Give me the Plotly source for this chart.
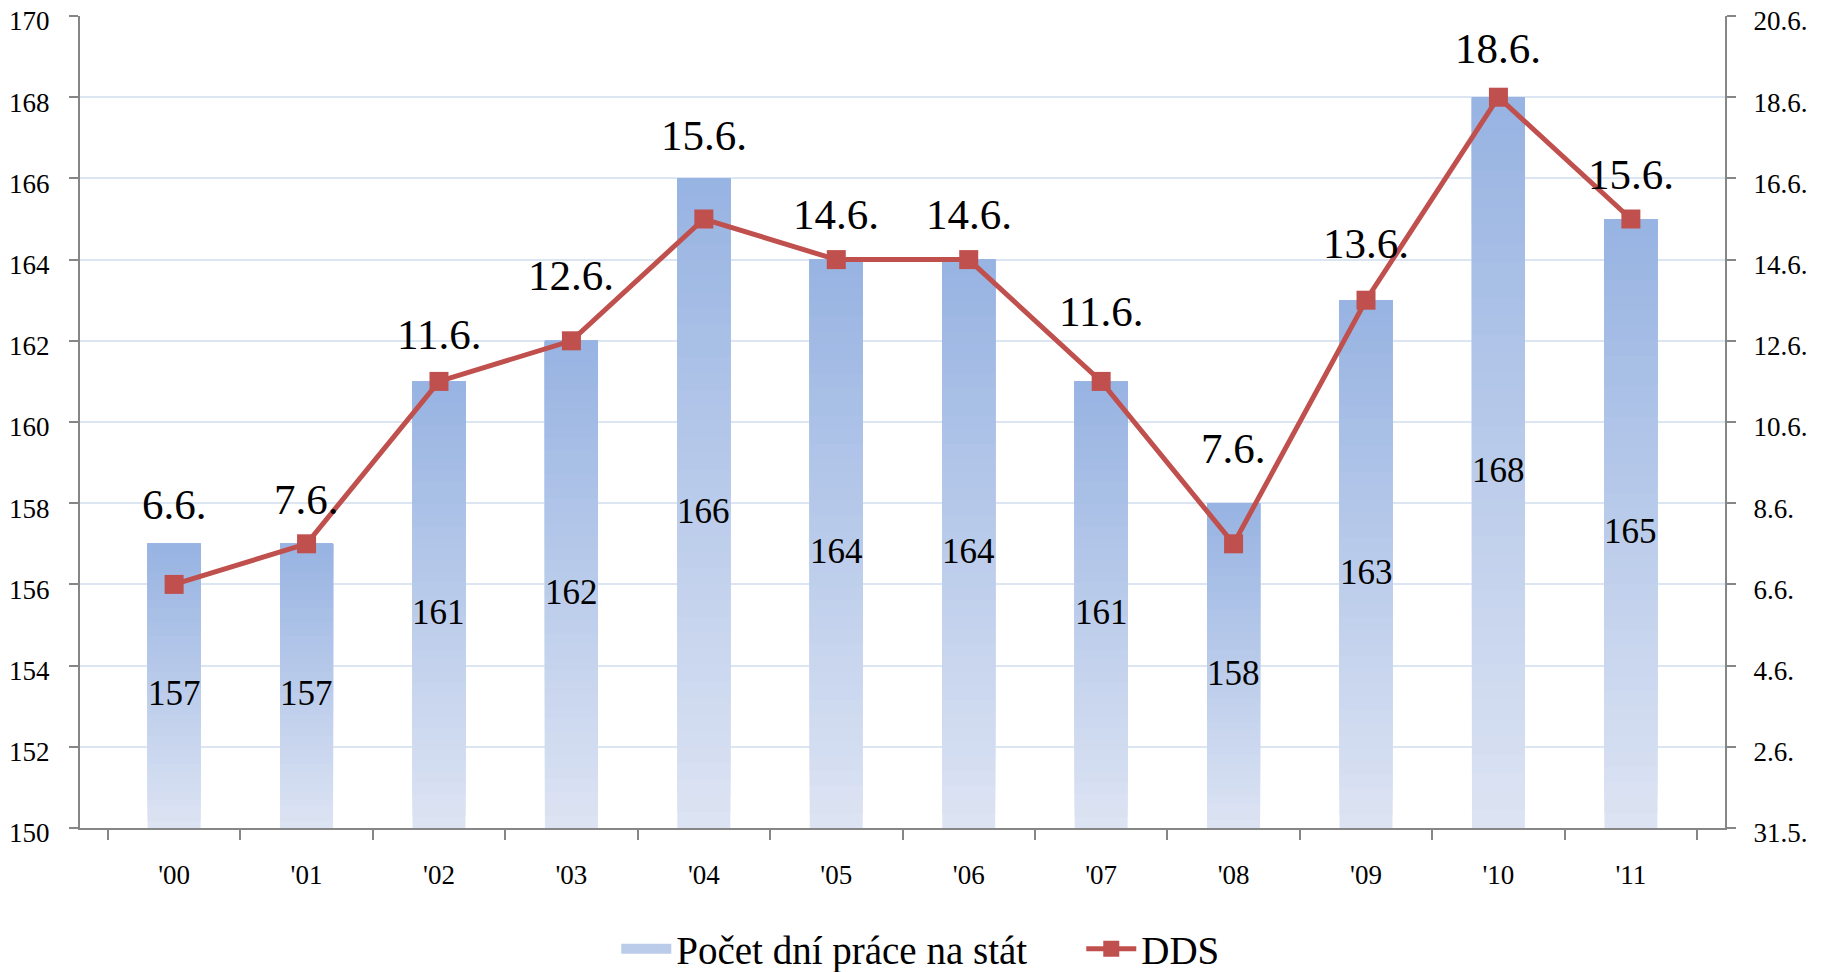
import datetime as dt
import plotly.graph_objects as go

# ---- data ----
years = ["'00", "'01", "'02", "'03", "'04", "'05", "'06", "'07", "'08", "'09", "'10", "'11"]
work_days = [157, 157, 161, 162, 166, 164, 164, 161, 158, 163, 168, 165]
dds_labels = ["6.6.", "7.6.", "11.6.", "12.6.", "15.6.", "14.6.", "14.6.", "11.6.", "7.6.", "13.6.", "18.6.", "15.6."]
y2_ticktext = ["31.5.", "2.6.", "4.6.", "6.6.", "8.6.", "10.6.", "12.6.", "14.6.", "16.6.", "18.6.", "20.6."]
bar_name = "Počet dní práce na stát"
line_name = "DDS"

# label vertical offsets (px) above the DDS markers
label_shift = [80, 44, 47, 65, 84, 45, 45, 70, 95, 57, 49, 45]

# ---- derived ----
ref = dt.date(2011, 5, 31)
def to_offset(s):
    d, m = [int(p) for p in s.strip(".").split(".")]
    return (dt.date(2011, m, d) - ref).days
dds_num = [to_offset(s) for s in dds_labels]
y2_tickvals = [to_offset(s) for s in y2_ticktext]

BASE = 150
FONT = "Liberation Serif"
top_rgb = (151, 179, 226)
bot_rgb = (221, 228, 243)
N = 40

fig = go.Figure()
# gradient bars: overlapping layers, each from its start up to the bar top
for k in range(N):
    t = (k + 0.5) / N
    c = tuple(round(bot_rgb[i] + (top_rgb[i] - bot_rgb[i]) * t) for i in range(3))
    col = "rgb(%d,%d,%d)" % c
    starts = [BASE + (v - BASE) * k / N for v in work_days]
    fig.add_trace(go.Bar(
        x=years,
        y=[v - s for v, s in zip(work_days, starts)],
        base=starts,
        width=0.4,
        marker=dict(color=col, line=dict(width=0)),
        showlegend=False,
        hoverinfo="skip",
    ))

# legend swatch for the bar series
mid = tuple(round((bot_rgb[i] + top_rgb[i]) / 2) for i in range(3))
fig.add_trace(go.Scatter(
    x=[None], y=[None], mode="lines", name=bar_name,
    line=dict(color="rgb(%d,%d,%d)" % mid, width=17),
    legendrank=1,
))

fig.add_trace(go.Scatter(
    x=years,
    y=dds_num,
    yaxis="y2",
    mode="lines+markers",
    name=line_name,
    line=dict(color="#C0504D", width=5),
    marker=dict(symbol="square", size=19, color="#C0504D"),
    legendrank=2,
))

# bar value labels, centred in the bars
for x, v in zip(years, work_days):
    fig.add_annotation(
        x=x, y=(BASE + v) / 2, xref="x", yref="y", text=str(v), showarrow=False,
        yshift=-8, yanchor="middle", xanchor="center",
        font=dict(family=FONT, size=35, color="black"),
    )

# DDS date labels above the markers
for x, yv, lab, sh in zip(years, dds_num, dds_labels, label_shift):
    fig.add_annotation(
        x=x, y=yv, xref="x", yref="y2", text=lab, showarrow=False,
        yshift=sh, yanchor="middle", xanchor="center",
        font=dict(family=FONT, size=43, color="black"),
    )

axis_col = "#868686"
grid_col = "#DCE5F2"
fig.update_layout(
    width=1825, height=972,
    margin=dict(l=80, r=100, t=16, b=144, autoexpand=False),
    plot_bgcolor="white", paper_bgcolor="white",
    barmode="overlay",
    font=dict(family=FONT, color="black"),
    xaxis=dict(
        automargin=False,
        showline=True, linecolor=axis_col, linewidth=2,
        ticks="outside", tickson="boundaries", ticklen=10, tickwidth=2, tickcolor=axis_col,
        tickfont=dict(family=FONT, size=27), ticklabelstandoff=22,
        showgrid=False,
    ),
    yaxis=dict(
        automargin=False, ticklabeloverflow="allow", ticklabelshift=5,
        range=[150, 170], dtick=2, tick0=150,
        showline=True, linecolor=axis_col, linewidth=2,
        ticks="outside", ticklen=9, tickwidth=2, tickcolor=axis_col,
        tickfont=dict(family=FONT, size=27), ticklabelstandoff=14,
        showgrid=True, gridcolor=grid_col, gridwidth=2, zeroline=False,
    ),
    yaxis2=dict(
        automargin=False, ticklabeloverflow="allow", ticklabelshift=5,
        overlaying="y", side="right", range=[0, 20],
        tickmode="array", tickvals=y2_tickvals, ticktext=y2_ticktext,
        showline=True, linecolor=axis_col, linewidth=2,
        ticks="outside", ticklen=9, tickwidth=2, tickcolor=axis_col,
        tickfont=dict(family=FONT, size=27), ticklabelstandoff=12,
        showgrid=False, zeroline=False,
    ),
    legend=dict(
        orientation="h", x=0.326, xanchor="left", y=-0.149, yanchor="middle",
        font=dict(family=FONT, size=39), itemwidth=50, entrywidth=400,
    ),
)

# remove the default page margin so the figure fills the window exactly
fig.write_html(
    "out.html",
    config={"displayModeBar": False},
    post_script="document.body.style.margin='0';",
)
